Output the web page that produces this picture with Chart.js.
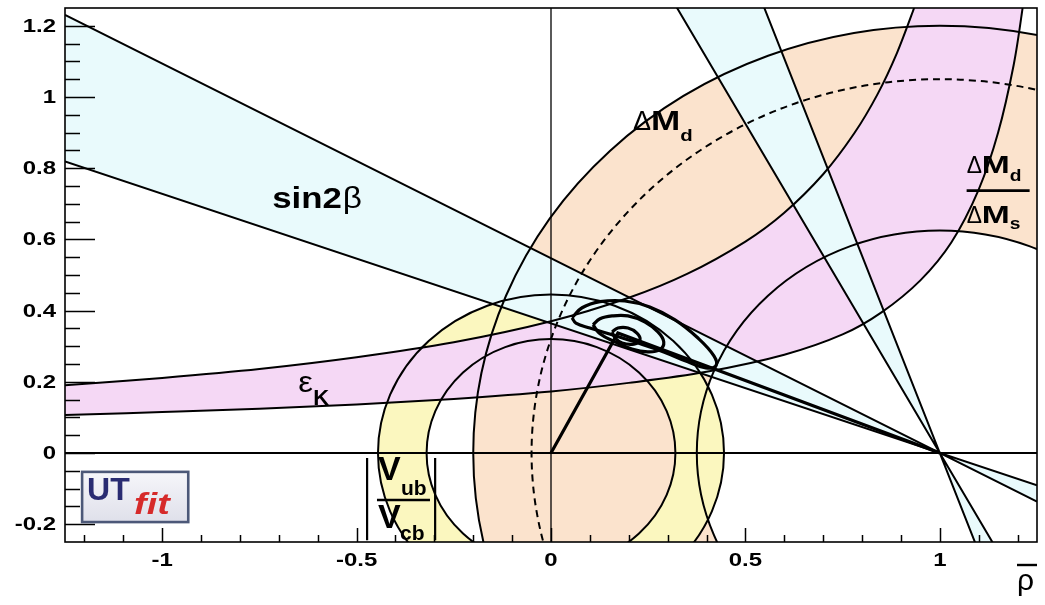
<!DOCTYPE html>
<html>
<head>
<meta charset="utf-8">
<script src="https://cdn.jsdelivr.net/npm/chart.js@4.4.1/dist/chart.umd.min.js"></script>
<style>
  html, body { margin: 0; padding: 0; background: #ffffff; }
  #wrap { width: 1045px; height: 605px; }
</style>
</head>
<body>
<div id="wrap"><canvas id="ut" width="1045" height="605"></canvas></div>
<script>
// ---- axes ----
const rhoRange = [-1.25, 1.25];
const etaRange = [-0.25, 1.25];
const rhoTicks = [-1, -0.5, 0, 0.5, 1];
const rhoTickLabels = ['-1', '-0.5', '0', '0.5', '1'];
const etaTicks = [-0.2, 0, 0.2, 0.4, 0.6, 0.8, 1, 1.2];
const etaTickLabels = ['-0.2', '0', '0.2', '0.4', '0.6', '0.8', '1', '1.2'];
const rhoMinorStep = 0.1;
const etaMinorStep = 0.05;

// ---- |Vub/Vcb| ring around the origin ----
const vubCentre = [0, 0];
const vubRadii = [0.32, 0.445];

// ---- ΔMd ring around (1,0) and the dashed ΔMs limit ----
const dmdCentre = [1, 0];
const dmdRadii = [0.625, 1.2];
const dmsLimitRadius = 1.05;

// ---- sin2β: slopes of the band edges through (1,0) ----
const sin2bPivot = [1, 0];
const sin2bShallow = [-0.547, -0.364];
const sin2bSteep = [-1.85, -2.77];

// ---- εK hyperbola edges (ρ, η) ----
const epsKUpper = [
  [-1.25, 0.190], [-1.00, 0.211], [-0.75, 0.236], [-0.50, 0.269], [-0.25, 0.311],
  [0.00, 0.370], [0.20, 0.436], [0.35, 0.503], [0.50, 0.594], [0.60, 0.675],
  [0.70, 0.783], [0.78, 0.898], [0.84, 1.008], [0.89, 1.124], [0.934, 1.25]
];
const epsKLower = [
  [-1.25, 0.107], [-1.00, 0.115], [-0.75, 0.124], [-0.50, 0.136], [-0.25, 0.152],
  [0.00, 0.173], [0.20, 0.197], [0.40, 0.228], [0.60, 0.276], [0.75, 0.333],
  [0.85, 0.395], [0.95, 0.485], [1.03, 0.592], [1.10, 0.740], [1.15, 0.900],
  [1.19, 1.090], [1.213, 1.25]
];

// ---- fit contours around the apex ----
const contourOuter = [
  [0.054, 0.380], [0.080, 0.408], [0.126, 0.425], [0.190, 0.427], [0.254, 0.410],
  [0.319, 0.374], [0.378, 0.323], [0.419, 0.273], [0.424, 0.245], [0.398, 0.239],
  [0.352, 0.256], [0.290, 0.284], [0.224, 0.309], [0.157, 0.332], [0.100, 0.351],
  [0.064, 0.365], [0.054, 0.380]
];
const contourMiddle = [
  [0.108, 0.360], [0.126, 0.377], [0.157, 0.385], [0.198, 0.385], [0.242, 0.368],
  [0.275, 0.340], [0.290, 0.312], [0.280, 0.290], [0.249, 0.284], [0.208, 0.292],
  [0.165, 0.312], [0.126, 0.335], [0.108, 0.360]
];
const contourInner = [
  [0.157, 0.340], [0.172, 0.351], [0.198, 0.351], [0.221, 0.337], [0.229, 0.318],
  [0.213, 0.306], [0.183, 0.309], [0.165, 0.323], [0.157, 0.340]
];

// ---- unitarity triangle ----
const triangle = [[0, 0], [0.172, 0.337], [1, 0]];

// ---- fill colours ----
const colDmd = '#fbe3cd';
const colVub = '#fbf7bf';
const colEpsK = '#f5d8f5';
const colSin2b = '#e9fafc';

const toXY = arr => arr.map(p => ({ x: p[0], y: p[1] }));

// smooth path through pixel points (Catmull-Rom as Bezier segments)
function traceSmooth(ctx, pts, startNew) {
  if (startNew) ctx.moveTo(pts[0][0], pts[0][1]); else ctx.lineTo(pts[0][0], pts[0][1]);
  for (let i = 0; i < pts.length - 1; i++) {
    const p0 = pts[Math.max(i - 1, 0)], p1 = pts[i], p2 = pts[i + 1], p3 = pts[Math.min(i + 2, pts.length - 1)];
    ctx.bezierCurveTo(
      p1[0] + (p2[0] - p0[0]) / 6, p1[1] + (p2[1] - p0[1]) / 6,
      p2[0] - (p3[0] - p1[0]) / 6, p2[1] - (p3[1] - p1[1]) / 6,
      p2[0], p2[1]);
  }
}

// text drawn with a horizontal stretch; returns advance width
function wideText(ctx, str, x, y, font, sx, color, align) {
  ctx.save();
  ctx.font = font;
  ctx.fillStyle = color || '#000';
  ctx.textAlign = align || 'left';
  ctx.translate(x, y);
  ctx.scale(sx, 1);
  ctx.fillText(str, 0, 0);
  const w = ctx.measureText(str).width * sx;
  ctx.restore();
  return w;
}

const constraintBands = {
  id: 'constraintBands',
  beforeDatasetsDraw(chart) {
    const { ctx, chartArea: a, scales: { x, y } } = chart;
    const px = v => x.getPixelForValue(v);
    const py = v => y.getPixelForValue(v);
    const circle = (c, r) => {
      const cx = px(c[0]), cy = py(c[1]);
      const rx = Math.abs(px(c[0] + r) - cx), ry = Math.abs(py(c[1] + r) - cy);
      ctx.moveTo(cx + rx, cy);
      ctx.ellipse(cx, cy, rx, ry, 0, 0, Math.PI * 2);
    };
    const lineAt = (m, xv) => sin2bPivot[1] + m * (xv - sin2bPivot[0]);
    const wedge = (m1, m2) => {
      ctx.moveTo(px(sin2bPivot[0]), py(sin2bPivot[1]));
      ctx.lineTo(px(rhoRange[0]), py(lineAt(m1, rhoRange[0])));
      ctx.lineTo(px(rhoRange[0]), py(lineAt(m2, rhoRange[0])));
      ctx.closePath();
      ctx.moveTo(px(sin2bPivot[0]), py(sin2bPivot[1]));
      ctx.lineTo(px(rhoRange[1]), py(lineAt(m1, rhoRange[1])));
      ctx.lineTo(px(rhoRange[1]), py(lineAt(m2, rhoRange[1])));
      ctx.closePath();
    };
    const upperPx = epsKUpper.map(p => [px(p[0]), py(p[1])]);
    const lowerPx = epsKLower.map(p => [px(p[0]), py(p[1])]);

    ctx.save();
    ctx.beginPath();
    ctx.rect(a.left, a.top, a.width, a.height);
    ctx.clip();

    // ΔMd ring
    ctx.beginPath();
    circle(dmdCentre, dmdRadii[1]);
    circle(dmdCentre, dmdRadii[0]);
    ctx.fillStyle = colDmd;
    ctx.fill('evenodd');

    // |Vub/Vcb| ring
    ctx.beginPath();
    circle(vubCentre, vubRadii[1]);
    circle(vubCentre, vubRadii[0]);
    ctx.fillStyle = colVub;
    ctx.fill('evenodd');

    // εK band
    ctx.beginPath();
    traceSmooth(ctx, upperPx, true);
    traceSmooth(ctx, lowerPx.slice().reverse(), false);
    ctx.closePath();
    ctx.fillStyle = colEpsK;
    ctx.fill();

    // sin2β bands
    ctx.beginPath();
    wedge(sin2bShallow[0], sin2bShallow[1]);
    wedge(sin2bSteep[0], sin2bSteep[1]);
    ctx.fillStyle = colSin2b;
    ctx.fill();

    // outlines
    ctx.strokeStyle = '#000';
    ctx.lineWidth = 2;
    ctx.lineJoin = 'round';
    ctx.beginPath();
    circle(dmdCentre, dmdRadii[0]);
    circle(dmdCentre, dmdRadii[1]);
    circle(vubCentre, vubRadii[0]);
    circle(vubCentre, vubRadii[1]);
    ctx.stroke();

    ctx.beginPath();
    traceSmooth(ctx, upperPx, true);
    traceSmooth(ctx, lowerPx, true);
    ctx.stroke();

    ctx.beginPath();
    [...sin2bShallow, ...sin2bSteep].forEach(m => {
      ctx.moveTo(px(rhoRange[0]), py(lineAt(m, rhoRange[0])));
      ctx.lineTo(px(rhoRange[1]), py(lineAt(m, rhoRange[1])));
    });
    ctx.stroke();

    ctx.save();
    ctx.setLineDash([7, 5]);
    ctx.beginPath();
    circle(dmdCentre, dmsLimitRadius);
    ctx.stroke();
    ctx.restore();

    // zero axes
    ctx.lineWidth = 1.3;
    ctx.beginPath();
    ctx.moveTo(px(0), a.top); ctx.lineTo(px(0), a.bottom);
    ctx.stroke();
    ctx.lineWidth = 2;
    ctx.beginPath();
    ctx.moveTo(a.left, py(0)); ctx.lineTo(a.right, py(0));
    ctx.stroke();

    ctx.restore();
  }
};

const frameAndText = {
  id: 'frameAndText',
  afterDatasetsDraw(chart) {
    const { ctx, chartArea: a, scales: { x, y } } = chart;
    const px = v => x.getPixelForValue(v);
    const py = v => y.getPixelForValue(v);
    ctx.save();
    ctx.strokeStyle = '#000';

    // frame
    ctx.lineWidth = 1.6;
    ctx.strokeRect(a.left, a.top, a.width, a.height);

    // tick marks, pointing inward
    ctx.lineWidth = 1.5;
    ctx.beginPath();
    const nEta = Math.round((etaRange[1] - etaRange[0]) / etaMinorStep);
    for (let i = 1; i < nEta; i++) {
      const v = etaRange[0] + i * etaMinorStep;
      const major = etaTicks.some(t => Math.abs(t - v) < 1e-6);
      const yy = Math.round(py(v)) + 0.5;
      ctx.moveTo(a.left, yy);
      ctx.lineTo(a.left + (major ? 30 : 15), yy);
    }
    const nRho = Math.round((rhoRange[1] - rhoRange[0]) / rhoMinorStep);
    for (let i = 0; i <= nRho; i++) {
      const v = -1.2 + i * rhoMinorStep;
      if (v > rhoRange[1] - 0.01) break;
      const major = rhoTicks.some(t => Math.abs(t - v) < 1e-6);
      const xx = Math.round(px(v)) + 0.5;
      ctx.moveTo(xx, a.bottom);
      ctx.lineTo(xx, a.bottom - (major ? 14 : 7));
    }
    ctx.stroke();

    // tick labels
    const tickFont = 'bold 18px "Liberation Sans", Arial, sans-serif';
    ctx.textBaseline = 'middle';
    etaTicks.forEach((v, i) => wideText(ctx, etaTickLabels[i], a.left - 9, py(v) + 1, tickFont, 1.33, '#000', 'right'));
    rhoTicks.forEach((v, i) => wideText(ctx, rhoTickLabels[i], px(v), a.bottom + 19, tickFont, 1.33, '#000', 'center'));
    ctx.textBaseline = 'alphabetic';

    // axis title ρ̄
    const rx = a.right - 20, rb = a.bottom + 48;
    wideText(ctx, 'ρ', rx, rb, '30px "Liberation Sans", "DejaVu Sans", sans-serif', 1.0, '#000', 'left');
    ctx.lineWidth = 2.4;
    ctx.beginPath(); ctx.moveTo(rx, a.bottom + 23); ctx.lineTo(a.right, a.bottom + 23); ctx.stroke();

    // constraint labels
    const serif = '"Liberation Sans", "DejaVu Sans", sans-serif';
    let cx = px(-0.717), cb = py(0.689);
    cx += wideText(ctx, 'sin2', cx, cb, 'bold 29px ' + serif, 1.2);
    wideText(ctx, 'β', cx + 1, cb, '29px ' + serif, 1.15);

    cx = px(0.211); cb = py(0.908);
    cx += wideText(ctx, 'Δ', cx, cb, '27px ' + serif, 1.0);
    cx += wideText(ctx, 'M', cx, cb, 'bold 27px ' + serif, 1.3);
    wideText(ctx, 'd', cx, cb + 11, 'bold 17px ' + serif, 1.2);

    cx = px(1.069); cb = py(0.787);
    let w = wideText(ctx, 'Δ', cx, cb, '24px ' + serif, 0.95);
    w += wideText(ctx, 'M', cx + w, cb, 'bold 24px ' + serif, 1.4);
    wideText(ctx, 'd', cx + w, cb + 8, 'bold 16px ' + serif, 1.2);
    ctx.lineWidth = 2.6;
    ctx.beginPath(); ctx.moveTo(cx, py(0.737)); ctx.lineTo(cx + 63, py(0.737)); ctx.stroke();
    cb = py(0.647);
    w = wideText(ctx, 'Δ', cx, cb, '24px ' + serif, 0.95);
    w += wideText(ctx, 'M', cx + w, cb, 'bold 24px ' + serif, 1.4);
    wideText(ctx, 's', cx + w, cb + 6, 'bold 16px ' + serif, 1.2);

    cx = px(-0.65); cb = py(0.171);
    wideText(ctx, 'ε', cx, cb, '30px ' + serif, 1.1);
    wideText(ctx, 'K', cx + 15, cb + 13, 'bold 22px ' + serif, 1.0);

    // |Vub / Vcb|
    ctx.lineWidth = 2.2;
    ctx.beginPath();
    [-0.473, -0.298].forEach(r => { ctx.moveTo(px(r), py(-0.014)); ctx.lineTo(px(r), py(-0.245)); });
    ctx.stroke();
    const vx = px(-0.445);
    wideText(ctx, 'V', vx, py(-0.077), 'bold 34px ' + serif, 1.0);
    wideText(ctx, 'ub', vx + 23, py(-0.118), 'bold 21px ' + serif, 1.0);
    ctx.lineWidth = 2.6;
    ctx.beginPath(); ctx.moveTo(vx - 1, py(-0.132)); ctx.lineTo(vx + 52, py(-0.132)); ctx.stroke();
    wideText(ctx, 'V', vx, py(-0.211), 'bold 34px ' + serif, 1.0);
    wideText(ctx, 'cb', vx + 22, py(-0.244), 'bold 21px ' + serif, 1.0);

    // UTfit logo
    const bx = px(-1.206), by = py(-0.053), bw = px(-0.933) - bx, bh = py(-0.194) - by;
    const g = ctx.createLinearGradient(bx, by, bx, by + bh);
    g.addColorStop(0, '#f6f6fa'); g.addColorStop(1, '#dfe0ea');
    ctx.fillStyle = g;
    ctx.fillRect(bx, by, bw, bh);
    ctx.lineWidth = 2.6;
    ctx.strokeStyle = '#4c5878';
    ctx.strokeRect(bx, by, bw, bh);
    wideText(ctx, 'UT', bx + 5, by + 28, 'bold 32px ' + serif, 1.0, '#2a2c72');
    wideText(ctx, 'fit', bx + 52, by + 42, 'italic bold 29px ' + serif, 1.3, '#d62a2a');

    ctx.restore();
  }
};

const lineStyle = { showLine: true, borderColor: '#000', pointRadius: 0, fill: false };

new Chart(document.getElementById('ut'), {
  type: 'scatter',
  data: {
    datasets: [
      { ...lineStyle, data: toXY(contourOuter), borderWidth: 3.2, tension: 0.4 },
      { ...lineStyle, data: toXY(contourMiddle), borderWidth: 3.2, tension: 0.4 },
      { ...lineStyle, data: toXY(contourInner), borderWidth: 3.2, tension: 0.4 },
      { ...lineStyle, data: toXY(triangle), borderWidth: 3.2, tension: 0 }
    ]
  },
  options: {
    responsive: false,
    animation: false,
    events: [],
    layout: { padding: { left: 0, right: 8, top: 8, bottom: 0 } },
    plugins: { legend: { display: false }, tooltip: { enabled: false } },
    scales: {
      x: {
        type: 'linear', min: rhoRange[0], max: rhoRange[1],
        grid: { display: false }, border: { display: false }, ticks: { display: false },
        afterBuildTicks: s => { s.ticks = rhoTicks.map(v => ({ value: v })); },
        afterFit: s => { s.height = 63; }
      },
      y: {
        type: 'linear', min: etaRange[0], max: etaRange[1],
        grid: { display: false }, border: { display: false }, ticks: { display: false },
        afterBuildTicks: s => { s.ticks = etaTicks.map(v => ({ value: v })); },
        afterFit: s => { s.width = 65; }
      }
    }
  },
  plugins: [constraintBands, frameAndText]
});
</script>
</body>
</html>
